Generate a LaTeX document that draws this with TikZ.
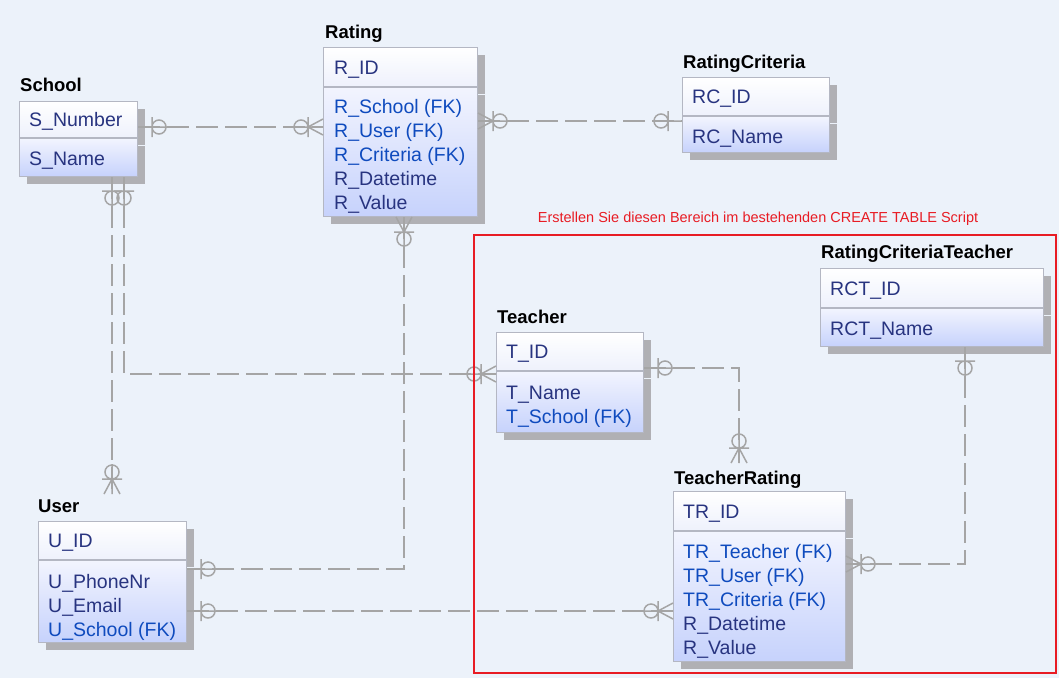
\documentclass[tikz,border=0pt]{standalone}
\usepackage{fontspec}
\setmainfont{Liberation Sans}
\usetikzlibrary{calc,shadows}
\definecolor{bgc}{RGB}{236,242,250}
\definecolor{connc}{RGB}{165,165,165}
\definecolor{navy}{RGB}{40,52,128}
\definecolor{fkblue}{RGB}{15,75,190}
\definecolor{boxborder}{RGB}{180,183,195}
\definecolor{hdrbot}{RGB}{238,241,252}
\definecolor{bodytop}{RGB}{242,244,254}
\definecolor{bodybot}{RGB}{198,210,252}
\definecolor{shadowc}{RGB}{176,176,180}
\definecolor{redc}{RGB}{232,28,36}
\tikzset{
  boxbase/.style={draw=boxborder, line width=1pt, inner sep=0pt, anchor=north west,
    drop shadow={shadow xshift=7pt, shadow yshift=-7pt, fill=shadowc, opacity=1}},
  hdr/.style={boxbase, top color=white, bottom color=hdrbot},
  bdy/.style={boxbase, top color=bodytop, bottom color=bodybot},
  attr/.style={anchor=west, inner sep=0pt, text height=14pt, text depth=0pt,
    font=\fontsize{19.5}{23}\selectfont, text=navy},
  fk/.style={attr, text=fkblue},
  ttl/.style={anchor=west, inner sep=0pt, text height=14pt, text depth=0pt,
    font=\fontsize{18.5}{22}\selectfont\bfseries, text=black},
  endl/.style={draw=connc, line width=1.5pt, solid},
  conn/.style={draw=connc, line width=1.5pt, dash pattern=on 22pt off 7pt},
  one0/.pic={\draw[endl] (0,0)--(30,0) (14,-10)--(14,10) (21,0) circle[radius=7pt];},
  many0/.pic={\draw[endl] (0,0)--(30,0) (0,-8)--(15,0)--(0,8) (15,-10)--(15,10) (22,0) circle[radius=7pt];}
}
\begin{document}
\begin{tikzpicture}[x=1pt,y=-1pt]
\useasboundingbox (0,0) rectangle (1059,678);
\fill[bgc] (0,0) rectangle (1059,678);

% School
\node[hdr, minimum width=118pt, minimum height=36pt] (school) at (19,101) {};
\node[bdy, minimum width=118pt, minimum height=38pt] (school-b) at (school.south west) {};
\node[ttl] (school-t) at ($(school.north west)+(1,-17)$) {School};
\node[attr] (school-a0) at ($(school.west)+(10,0)$) {S\_Number};
\node[attr] (school-a1) at ($(school-b.north west)+(10,20)$) {S\_Name};

% Rating
\node[hdr, minimum width=154pt, minimum height=39pt] (rating) at (323,47) {};
\node[bdy, minimum width=154pt, minimum height=129pt] (rating-b) at (rating.south west) {};
\node[ttl] (rating-t) at ($(rating.north west)+(2,-16)$) {Rating};
\node[attr] (rating-a0) at ($(rating.west)+(11,0)$) {R\_ID};
\node[fk] (rating-a1) at ($(rating-b.north west)+(11,19)$) {R\_School (FK)};
\node[fk] (rating-a2) at ($(rating-b.north west)+(11,43)$) {R\_User (FK)};
\node[fk] (rating-a3) at ($(rating-b.north west)+(11,67)$) {R\_Criteria (FK)};
\node[attr] (rating-a4) at ($(rating-b.north west)+(11,91)$) {R\_Datetime};
\node[attr] (rating-a5) at ($(rating-b.north west)+(11,115)$) {R\_Value};

% RatingCriteria
\node[hdr, minimum width=147pt, minimum height=38pt] (rc) at (682,77) {};
\node[bdy, minimum width=147pt, minimum height=36pt] (rc-b) at (rc.south west) {};
\node[ttl] (rc-t) at ($(rc.north west)+(1,-16)$) {RatingCriteria};
\node[attr] (rc-a0) at ($(rc.west)+(10,0)$) {RC\_ID};
\node[attr] (rc-a1) at ($(rc-b.north west)+(10,20)$) {RC\_Name};

% RatingCriteriaTeacher
\node[hdr, minimum width=223pt, minimum height=39pt] (rct) at (820,268) {};
\node[bdy, minimum width=223pt, minimum height=38pt] (rct-b) at (rct.south west) {};
\node[ttl] (rct-t) at ($(rct.north west)+(1,-17)$) {RatingCriteriaTeacher};
\node[attr] (rct-a0) at ($(rct.west)+(10,0)$) {RCT\_ID};
\node[attr] (rct-a1) at ($(rct-b.north west)+(10,20)$) {RCT\_Name};

% Teacher
\node[hdr, minimum width=147pt, minimum height=38pt] (teacher) at (496,332) {};
\node[bdy, minimum width=147pt, minimum height=61pt] (teacher-b) at (teacher.south west) {};
\node[ttl] (teacher-t) at ($(teacher.north west)+(1,-16)$) {Teacher};
\node[attr] (teacher-a0) at ($(teacher.west)+(10,0)$) {T\_ID};
\node[attr] (teacher-a1) at ($(teacher-b.north west)+(10,21)$) {T\_Name};
\node[fk] (teacher-a2) at ($(teacher-b.north west)+(10,45)$) {T\_School (FK)};

% TeacherRating
\node[hdr, minimum width=172pt, minimum height=39pt] (tr) at (673,491) {};
\node[bdy, minimum width=172pt, minimum height=130pt] (tr-b) at (tr.south west) {};
\node[ttl] (tr-t) at ($(tr.north west)+(1,-14)$) {TeacherRating};
\node[attr] (tr-a0) at ($(tr.west)+(10,0)$) {TR\_ID};
\node[fk] (tr-a1) at ($(tr-b.north west)+(10,20)$) {TR\_Teacher (FK)};
\node[fk] (tr-a2) at ($(tr-b.north west)+(10,44)$) {TR\_User (FK)};
\node[fk] (tr-a3) at ($(tr-b.north west)+(10,68)$) {TR\_Criteria (FK)};
\node[attr] (tr-a4) at ($(tr-b.north west)+(10,92)$) {R\_Datetime};
\node[attr] (tr-a5) at ($(tr-b.north west)+(10,116)$) {R\_Value};

% User
\node[hdr, minimum width=148pt, minimum height=38pt] (user) at (38,521) {};
\node[bdy, minimum width=148pt, minimum height=82pt] (user-b) at (user.south west) {};
\node[ttl] (user-t) at ($(user.north west)+(0,-16)$) {User};
\node[attr] (user-a0) at ($(user.west)+(10,0)$) {U\_ID};
\node[attr] (user-a1) at ($(user-b.north west)+(10,21)$) {U\_PhoneNr};
\node[attr] (user-a2) at ($(user-b.north west)+(10,45)$) {U\_Email};
\node[fk] (user-a3) at ($(user-b.north west)+(10,69)$) {U\_School (FK)};

% connector end points
\coordinate (c1a) at ($(school.north east)+(0,26)$);
\coordinate (c1b) at ($(rating.north west)+(0,80)$);
\coordinate (c2a) at ($(rating.north east)+(0,74)$);
\coordinate (c2b) at ($(rc.north west)+(0,44)$);
\coordinate (c3a) at ($(school-b.south west)+(93,0)$);
\coordinate (c3b) at ($(user.north west)+(74,-27)$);
\coordinate (c4a) at ($(school-b.south west)+(105,0)$);
\coordinate (c4b) at ($(teacher.north west)+(0,42)$);
\coordinate (c5a) at ($(rating-b.south west)+(81,0)$);
\coordinate (c5b) at ($(user-b.north east)+(0,9)$);
\coordinate (c6a) at ($(user-b.north east)+(0,51)$);
\coordinate (c6b) at ($(tr-b.north west)+(0,80)$);
\coordinate (c7a) at ($(teacher.north east)+(0,36)$);
\coordinate (c7b) at ($(tr.north west)+(66,-28)$);
\coordinate (c8a) at ($(rct-b.south west)+(145,0)$);
\coordinate (c8b) at ($(tr-b.north east)+(0,33)$);

% connectors
\draw[conn] (c1a) -- (c1b);
\draw[conn] (c2a) -- (c2b);
\draw[conn] (c3a) -- (c3b);
\draw[conn] (c4a) |- (c4b);
\draw[conn] (c5a) |- (c5b);
\draw[conn] (c6a) -- (c6b);
\draw[conn] (c7a) -| (c7b);
\draw[conn] (c8a) |- (c8b);

\pic at (c1a) {one0};
\pic[rotate=180] at (c1b) {many0};
\pic at (c2a) {many0};
\pic[rotate=180] at (c2b) {one0};
\pic[rotate=-90] at (c3a) {one0};
\pic[rotate=90] at (c3b) {many0};
\pic[rotate=-90] at (c4a) {one0};
\pic[rotate=180] at (c4b) {many0};
\pic[rotate=-90] at (c5a) {many0};
\pic at (c5b) {one0};
\pic at (c6a) {one0};
\pic[rotate=180] at (c6b) {many0};
\pic at (c7a) {one0};
\pic[rotate=90] at (c7b) {many0};
\pic[rotate=-90] at (c8a) {one0};
\pic at (c8b) {many0};

% highlighted area
\node[draw=redc, line width=2pt, minimum width=582pt, minimum height=438pt, inner sep=0pt, anchor=north west] (area) at (473,234) {};
\node[text=redc, font=\fontsize{14.5}{17}\selectfont, inner sep=0pt] (area-t) at ($(area.north)+(-7,-15)$) {Erstellen Sie diesen Bereich im bestehenden CREATE TABLE Script};
\end{tikzpicture}
\end{document}
